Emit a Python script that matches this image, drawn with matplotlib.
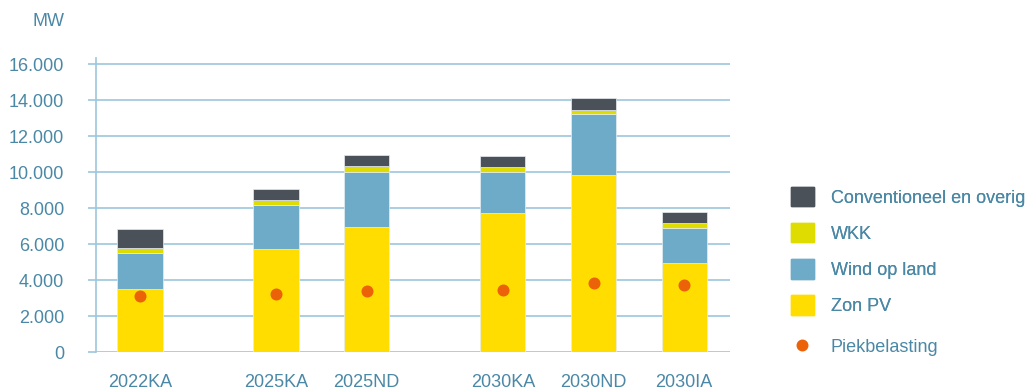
import matplotlib
matplotlib.use("Agg")
import matplotlib.pyplot as plt
from matplotlib.patches import Patch
from matplotlib.lines import Line2D

# data (MW)
scenarios = ["2022KA", "2025KA", "2025ND", "2030KA", "2030ND", "2030IA"]
positions = [0, 1.5, 2.5, 4, 5, 6]
zon_pv = [3500, 5740, 6940, 7720, 9820, 4940]
wind_op_land = [2000, 2430, 3060, 2280, 3400, 1960]
wkk = [280, 280, 330, 260, 220, 260]
conventioneel = [1080, 610, 610, 630, 680, 630]
piekbelasting = [3100, 3200, 3400, 3450, 3850, 3750]

series = [
    ("Zon PV", zon_pv, "#FFDD00"),
    ("Wind op land", wind_op_land, "#6EABC9"),
    ("WKK", wkk, "#DEDC00"),
    ("Conventioneel en overig", conventioneel, "#4A5159"),
]

txt = "#4A88A6"
grid = "#9CC6DC"
plt.rcParams["font.family"] = ["Liberation Sans", "DejaVu Sans"]

fig = plt.figure(figsize=(10.33, 3.92), dpi=100)
ax = fig.add_axes([0.0929, 0.102, 0.6138, 0.75])

bottom = [0] * len(scenarios)
for name, vals, col in series:
    ax.bar(positions, vals, width=0.5, bottom=bottom, color=col,
           edgecolor="#E6EDF1", linewidth=0.5, zorder=3)
    bottom = [b + v for b, v in zip(bottom, vals)]

ax.scatter(positions, piekbelasting, s=75, color="#EB6209", zorder=4, linewidths=0)

ax.set_xlim(-0.485, 6.505)
ax.set_ylim(0, 16333)
ax.set_yticks(range(0, 16001, 2000))
ax.set_yticklabels([f"{v:,}".replace(",", ".") for v in range(0, 16001, 2000)])
ax.set_xticks(positions)
ax.set_xticklabels(scenarios)
ax.yaxis.grid(True, color=grid, linewidth=1.2, zorder=0)
ax.set_axisbelow(True)
for s in ["top", "right", "bottom"]:
    ax.spines[s].set_visible(False)
ax.spines["left"].set_color(grid)
ax.spines["left"].set_linewidth(1.2)
ax.tick_params(axis="y", colors=grid, length=5.8, width=1.2, pad=17,
               labelcolor=txt, labelsize=13)
ax.tick_params(axis="x", length=0, pad=16, labelcolor=txt, labelsize=13)

fig.text(64 / 1033, 1 - 22 / 392, "MW", ha="right", va="center",
         color=txt, fontsize=13)

handles = [Patch(color=c) for _, _, c in series[::-1]]
labels = [n for n, _, _ in series[::-1]]
leg = fig.legend(handles, labels, loc="upper left",
                 bbox_to_anchor=(791 / 1033, 1 - 187 / 392),
                 frameon=False, borderpad=0, borderaxespad=0, handlelength=1.28,
                 handleheight=1.28, handletextpad=0.94, labelspacing=0.9,
                 fontsize=13, labelcolor=txt)
fig.add_artist(leg)

dot = Line2D([], [], marker="o", linestyle="none", color="#EB6209",
             markersize=8.6, markeredgewidth=0)
fig.legend([dot], ["Piekbelasting"], loc="center left",
           bbox_to_anchor=(790 / 1033, 1 - 347 / 392),
           frameon=False, borderpad=0, borderaxespad=0, handlelength=1.28,
           handletextpad=0.94, fontsize=13, labelcolor=txt)

fig.savefig("out.png", dpi=100)
